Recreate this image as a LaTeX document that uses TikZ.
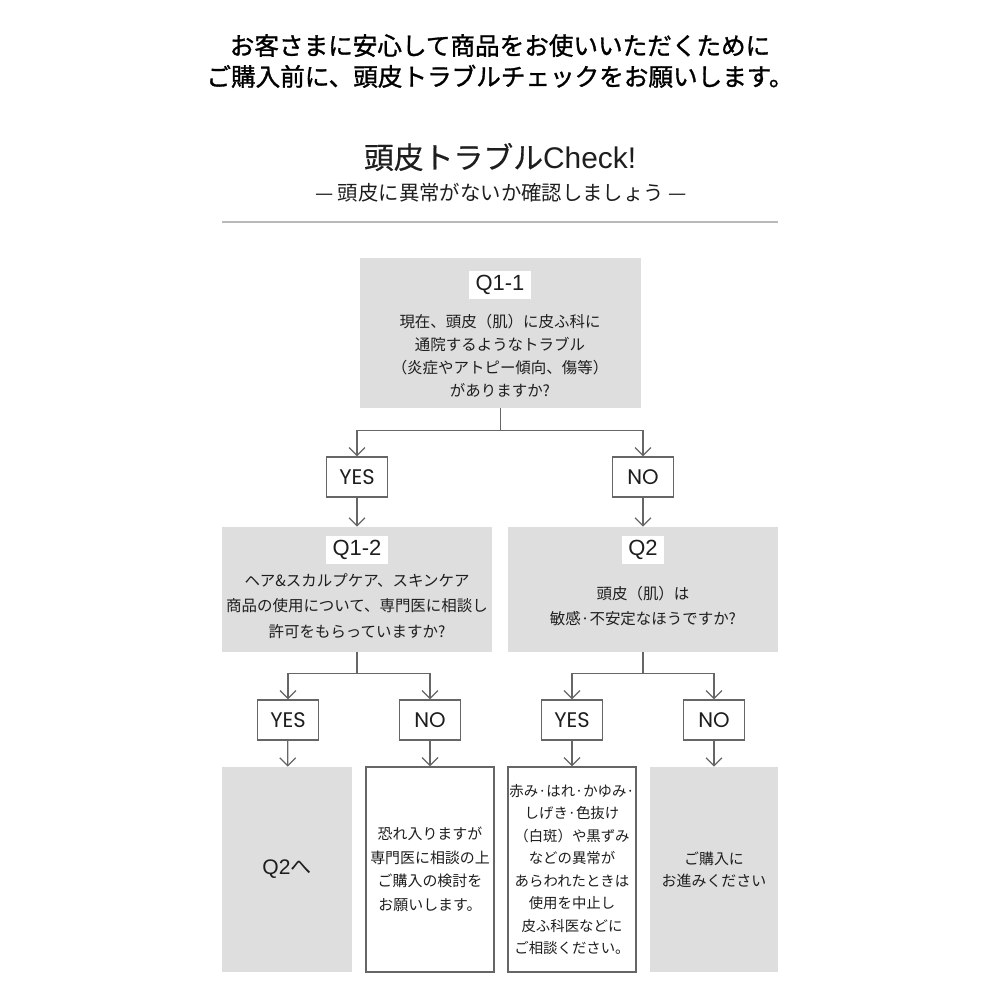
\documentclass[tikz,border=0pt]{standalone}
\usepackage{xcolor}
\usepackage{fontspec}
\setmainfont{Noto Sans CJK JP}
\newfontfamily\qfont{Liberation Sans}
\newfontfamily\ynfont{Poppins}
\newfontfamily\headfont{Noto Sans CJK JP}[FakeBold=1.2]
\newfontfamily\titlefont{Noto Sans CJK JP}[FakeBold=0.4]
\usepackage{tikz}
\usetikzlibrary{arrows.meta,positioning}
\definecolor{boxgray}{HTML}{DEDEDE}
\definecolor{linegray}{HTML}{666666}
\definecolor{txtcol}{HTML}{1E1E1E}

\begin{document}
\begin{tikzpicture}[
  x=0.02cm, y=-0.02cm,
  graybox/.style={fill=boxgray, inner sep=0pt, align=center, text=txtcol},
  whitebox/.style={draw=linegray, line width=0.75pt, fill=white, inner sep=0pt, align=center, text=txtcol},
  qlabel/.style={fill=white, inner xsep=0.13cm, inner ysep=0pt, minimum height=0.56cm, text=txtcol, font=\qfont\fontsize{12.5}{12.5}\selectfont},
  ynbox/.style={draw=linegray, line width=0.7pt, fill=white, minimum width=1.22cm, minimum height=0.8cm, inner sep=0pt, text=txtcol, font=\ynfont\fontsize{12}{12}\selectfont},
  qtext/.style={align=center, text=txtcol, font=\fontsize{8.8}{13.2}\selectfont},
  edg/.style={-{Straight Barb[length=1.6mm, width=3.2mm]}, linegray, line width=0.7pt}
]
\useasboundingbox (0,0) rectangle (1000,1000);

% heading
\node[align=center, text=black, font=\headfont\fontsize{14}{17.6}\selectfont] (head) at (500,61)
  {お客さまに安心して商品をお使いいただくために\\ご購入前に、頭皮トラブルチェックをお願いします。};
\node[text=txtcol, font=\titlefont\fontsize{17}{17}\selectfont] (title) at (500,157) {頭皮トラブル{\qfont Check!}};
\node[text=txtcol, font=\fontsize{11.6}{11.6}\selectfont] (subtitle) at (501,193) {— 頭皮に異常がないか確認しましょう —};
\draw[gray!55, line width=1.7pt] (222,222) -- (778,222);

% questions
\node[graybox, minimum width=5.62cm, minimum height=3cm] (q11) at (500.5,333) {};
\node[qlabel] (q11lab) at (500,285) {Q1-1};
\node[qtext] (q11txt) at (500,356) {現在、頭皮（肌）に皮ふ科に\\通院するようなトラブル\\（炎症やアトピー傾向、傷等）\\がありますか?};

\node[ynbox] (yes1) at (357,477) {YES};
\node[ynbox] (no1) at (643,477) {NO};

\node[graybox, minimum width=5.4cm, minimum height=2.5cm] (q12) at (357,589.5) {};
\node[qlabel] (q12lab) at (357,550) {Q1-2};
\node[qtext, font=\fontsize{8.8}{14.4}\selectfont] (q12txt) at (357,606) {ヘア\&スカルプケア、スキンケア\\商品の使用について、専門医に相談し\\許可をもらっていますか?};

\node[graybox, minimum width=5.4cm, minimum height=2.5cm] (q2) at (643,589.5) {};
\node[qlabel] (q2lab) at (643,550) {Q2};
\node[qtext, font=\fontsize{8.8}{14.4}\selectfont] (q2txt) at (643,606) {頭皮（肌）は\\敏感·不安定なほうですか?};

\node[ynbox] (yes2) at (288,720) {YES};
\node[ynbox] (no2) at (430,720) {NO};
\node[ynbox] (yes3) at (572,720) {YES};
\node[ynbox] (no3) at (714,720) {NO};

% answers
\node[graybox, minimum width=2.6cm, minimum height=4.1cm, font=\qfont\fontsize{12}{12}\selectfont] (r1) at (287,869.5) {Q2{\rmfamily へ}};
\node[whitebox, minimum width=2.56cm, minimum height=4.1cm, font=\fontsize{8.5}{13.4}\selectfont] (r2) at (430,869.5)
  {恐れ入りますが\\専門医に相談の上\\ご購入の検討を\\お願いします。};
\node[whitebox, minimum width=2.56cm, minimum height=4.1cm, font=\fontsize{8.2}{12.8}\selectfont] (r3) at (572,869.5)
  {赤み·はれ·かゆみ·\\しげき·色抜け\\（白斑）や黒ずみ\\などの異常が\\あらわれたときは\\使用を中止し\\皮ふ科医などに\\ご相談ください。};
\node[graybox, minimum width=2.56cm, minimum height=4.1cm, font=\fontsize{8.5}{12.6}\selectfont] (r4) at (714,869.5)
  {ご購入に\\お進みください};

% connectors
\draw[edg] (q11.south) -- ++(0,22) -| (yes1.north);
\draw[edg] (q11.south) -- ++(0,22) -| (no1.north);
\draw[edg] (yes1) -- (q12);
\draw[edg] (no1) -- (q2);
\draw[edg] (q12.south) -- ++(0,21) -| (yes2.north);
\draw[edg] (q12.south) -- ++(0,21) -| (no2.north);
\draw[edg] (q2.south) -- ++(0,21) -| (yes3.north);
\draw[edg] (q2.south) -- ++(0,21) -| (no3.north);
\draw[edg] (yes2) -- (r1);
\draw[edg] (no2) -- (r2);
\draw[edg] (yes3) -- (r3);
\draw[edg] (no3) -- (r4);
\end{tikzpicture}
\end{document}
